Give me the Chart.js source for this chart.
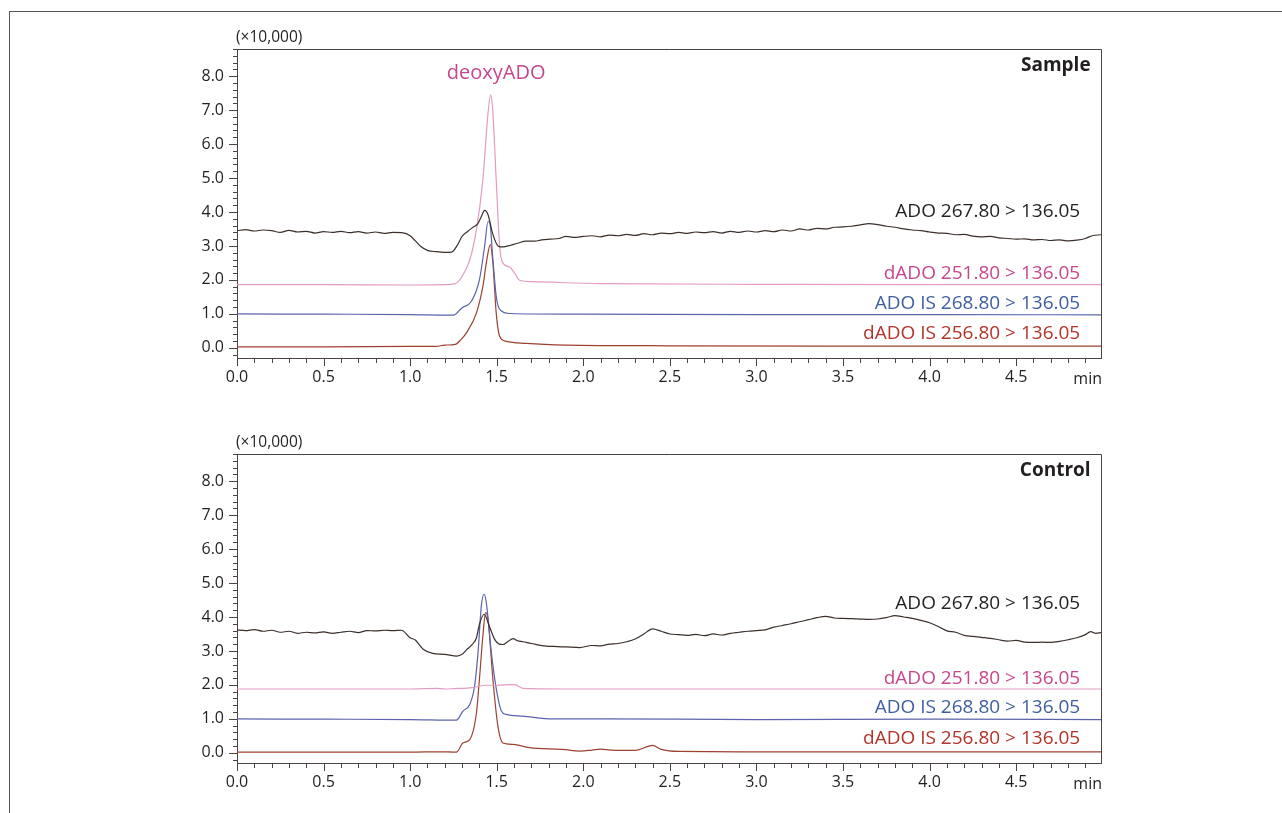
<!DOCTYPE html>
<html lang="en">
<head>
<meta charset="UTF-8">
<title>ADO / dADO chromatograms</title>
<script src="https://cdn.jsdelivr.net/npm/chart.js"></script>
<style>
  html, body { margin: 0; padding: 0; background: #fff; }
  #page { position: relative; width: 1282px; height: 813px; overflow: hidden; }
  #frame { position: absolute; left: 9px; top: 11px; right: -2px; bottom: -2px;
           border-top: 1px solid #5a5450; border-left: 1px solid #5a5450; }
  .box { position: absolute; left: 0; width: 1282px; height: 405px; }
</style>
</head>
<body>
<div id="page">
  <div id="frame"></div>
  <div class="box" style="top:0px"><canvas id="sampleChart"></canvas></div>
  <div class="box" style="top:405px"><canvas id="controlChart"></canvas></div>
</div>

<script>
// time (min) , intensity (x10,000)
const sampleADO = [[0,3.45],[0.05,3.48],[0.1,3.44],[0.15,3.47],[0.2,3.45],[0.25,3.4],[0.3,3.46],[0.35,3.41],[0.4,3.43],[0.45,3.38],[0.5,3.42],[0.55,3.4],[0.6,3.43],[0.65,3.39],[0.7,3.42],[0.75,3.38],[0.8,3.41],[0.85,3.37],[0.9,3.40],[0.95,3.39],[1.0,3.3],[1.03,3.15],[1.06,2.99],[1.1,2.87],[1.15,2.83],[1.2,2.81],[1.24,2.82],[1.27,3.0],[1.3,3.28],[1.33,3.42],[1.36,3.54],[1.39,3.65],[1.41,3.85],[1.43,4.05],[1.45,3.92],[1.475,3.39],[1.5,3.05],[1.52,2.97],[1.55,2.98],[1.58,3.02],[1.62,3.08],[1.67,3.14],[1.72,3.14],[1.76,3.18],[1.81,3.2],[1.86,3.22],[1.9,3.28],[1.95,3.25],[2.0,3.28],[2.05,3.3],[2.1,3.27],[2.15,3.32],[2.2,3.3],[2.25,3.34],[2.3,3.31],[2.35,3.36],[2.4,3.33],[2.45,3.38],[2.5,3.36],[2.55,3.4],[2.6,3.37],[2.65,3.41],[2.7,3.39],[2.75,3.42],[2.8,3.38],[2.85,3.43],[2.9,3.4],[2.95,3.44],[3.0,3.41],[3.05,3.45],[3.1,3.42],[3.15,3.47],[3.2,3.44],[3.25,3.5],[3.3,3.47],[3.35,3.52],[3.4,3.5],[3.45,3.55],[3.5,3.56],[3.55,3.58],[3.6,3.62],[3.65,3.66],[3.7,3.63],[3.75,3.58],[3.8,3.55],[3.85,3.5],[3.9,3.47],[3.95,3.45],[4.0,3.41],[4.05,3.38],[4.1,3.37],[4.15,3.33],[4.2,3.34],[4.25,3.29],[4.3,3.27],[4.35,3.28],[4.4,3.24],[4.45,3.22],[4.5,3.2],[4.55,3.21],[4.6,3.18],[4.65,3.19],[4.7,3.16],[4.75,3.18],[4.8,3.15],[4.85,3.17],[4.9,3.22],[4.94,3.3],[4.99,3.33]];
const sampleDADO = [[0,1.86],[0.5,1.86],[1.0,1.85],[1.2,1.86],[1.26,1.89],[1.3,2.1],[1.345,2.6],[1.383,3.48],[1.42,4.95],[1.45,6.92],[1.465,7.45],[1.478,6.92],[1.497,4.95],[1.517,2.99],[1.535,2.5],[1.575,2.38],[1.603,2.2],[1.632,1.99],[1.71,1.95],[2.1,1.89],[3.0,1.87],[4.99,1.86]];
const sampleADOIS = [[0,1.0],[0.5,0.99],[1.0,0.98],[1.25,0.96],[1.3,1.18],[1.354,1.37],[1.40,2.0],[1.43,2.99],[1.45,3.72],[1.46,3.68],[1.478,2.6],[1.497,1.52],[1.517,1.13],[1.575,1.01],[2.0,0.99],[3.0,0.98],[4.0,0.98],[4.99,0.97]];
const sampleDADOIS = [[0,0.03],[0.5,0.03],[1.0,0.04],[1.15,0.04],[1.2,0.08],[1.26,0.1],[1.295,0.25],[1.325,0.44],[1.383,1.03],[1.42,1.81],[1.443,2.6],[1.463,3.04],[1.478,2.5],[1.497,1.03],[1.517,0.34],[1.555,0.19],[1.67,0.13],[1.9,0.08],[2.5,0.06],[3.5,0.05],[4.99,0.05]];

const controlADO = [[0,3.62],[0.05,3.6],[0.1,3.63],[0.15,3.58],[0.2,3.61],[0.25,3.55],[0.3,3.58],[0.35,3.52],[0.4,3.55],[0.45,3.53],[0.5,3.56],[0.55,3.52],[0.6,3.55],[0.65,3.58],[0.7,3.54],[0.75,3.6],[0.8,3.59],[0.85,3.61],[0.9,3.6],[0.95,3.61],[1.0,3.39],[1.03,3.32],[1.05,3.2],[1.075,3.05],[1.13,2.93],[1.2,2.9],[1.27,2.85],[1.3,2.9],[1.325,3.03],[1.36,3.2],[1.383,3.39],[1.40,3.78],[1.427,4.08],[1.46,3.69],[1.488,3.34],[1.515,3.2],[1.536,3.19],[1.565,3.28],[1.594,3.36],[1.62,3.3],[1.652,3.27],[1.7,3.22],[1.787,3.14],[1.85,3.13],[1.9,3.12],[1.98,3.1],[2.05,3.16],[2.1,3.15],[2.15,3.2],[2.2,3.22],[2.25,3.27],[2.3,3.35],[2.35,3.5],[2.4,3.65],[2.45,3.58],[2.5,3.5],[2.55,3.48],[2.6,3.46],[2.65,3.49],[2.7,3.45],[2.75,3.5],[2.8,3.47],[2.85,3.52],[2.9,3.55],[2.95,3.58],[3.0,3.6],[3.05,3.62],[3.1,3.7],[3.15,3.75],[3.2,3.8],[3.25,3.86],[3.3,3.92],[3.35,3.98],[3.4,4.02],[3.45,3.97],[3.5,3.96],[3.55,3.95],[3.6,3.94],[3.65,3.93],[3.7,3.94],[3.75,3.98],[3.8,4.04],[3.85,4.0],[3.9,3.96],[3.95,3.9],[4.0,3.83],[4.05,3.72],[4.1,3.59],[4.15,3.55],[4.2,3.46],[4.25,3.43],[4.3,3.4],[4.35,3.37],[4.4,3.33],[4.45,3.29],[4.5,3.31],[4.55,3.26],[4.6,3.25],[4.65,3.26],[4.7,3.25],[4.75,3.28],[4.8,3.33],[4.85,3.39],[4.9,3.48],[4.93,3.57],[4.96,3.52],[4.99,3.54]];
const controlDADO = [[0,1.88],[0.5,1.88],[1.0,1.88],[1.15,1.9],[1.2,1.88],[1.25,1.89],[1.36,1.92],[1.44,1.99],[1.50,1.99],[1.585,2.01],[1.61,2.0],[1.652,1.9],[2.0,1.88],[3.0,1.88],[4.99,1.88]];
const controlADOIS = [[0,1.0],[0.5,0.99],[1.0,0.98],[1.267,0.96],[1.305,1.23],[1.344,1.42],[1.372,1.96],[1.392,2.95],[1.411,4.32],[1.427,4.67],[1.44,4.42],[1.469,2.95],[1.498,1.87],[1.527,1.23],[1.555,1.13],[1.652,1.08],[1.825,1.0],[2.1,1.0],[3.0,0.98],[4.0,0.99],[4.99,0.98]];
const controlDADOIS = [[0,0.02],[0.5,0.02],[1.0,0.02],[1.17,0.03],[1.267,0.02],[1.305,0.29],[1.344,0.39],[1.383,1.18],[1.40,2.16],[1.42,3.44],[1.436,4.13],[1.45,3.93],[1.478,2.16],[1.507,0.78],[1.536,0.29],[1.594,0.25],[1.69,0.15],[1.88,0.1],[1.98,0.05],[2.05,0.08],[2.1,0.11],[2.16,0.08],[2.3,0.07],[2.37,0.18],[2.4,0.22],[2.45,0.1],[2.55,0.04],[3.0,0.03],[4.99,0.03]];

const traceNames = ['ADO 267.80 > 136.05', 'dADO 251.80 > 136.05', 'ADO IS 268.80 > 136.05', 'dADO IS 256.80 > 136.05'];
const xTickLabels = [0, 0.5, 1.0, 1.5, 2.0, 2.5, 3.0, 3.5, 4.0, 4.5];
const yTickLabels = [0, 1, 2, 3, 4, 5, 6, 7, 8];

const lineColors = ['#3b302b', '#e39bc3', '#5b64aa', '#9e4030'];
const textColors = ['#231f20', '#c8468c', '#3f5e9f', '#b2332a'];
const FONT = '"Open Sans", "Noto Sans", sans-serif';

// chromatogram decorations: box, tick marks, trace names
const chromPlugin = {
    id: 'chrom',
    afterDraw(chart, args, opts) {
        const ctx = chart.ctx;
        const a = chart.chartArea;
        const xs = chart.scales.x, ys = chart.scales.y;
        ctx.save();
        ctx.strokeStyle = '#4a4340';
        ctx.lineWidth = 1;
        // top + right border
        ctx.beginPath();
        ctx.moveTo(a.left, a.top + 0.5);
        ctx.lineTo(a.right + 0.5, a.top + 0.5);
        ctx.lineTo(a.right + 0.5, a.bottom);
        ctx.stroke();
        // x tick marks
        ctx.beginPath();
        for (let i = 0; i <= 49; i++) {
            const v = i / 10;
            const px = Math.round(xs.getPixelForValue(v)) + 0.5;
            const len = (i % 5 === 0) ? 8 : 5;
            ctx.moveTo(px, a.bottom);
            ctx.lineTo(px, a.bottom + len);
        }
        // y tick marks
        for (let i = -1; i <= 44; i++) {
            const v = i / 5;
            const py = Math.round(ys.getPixelForValue(v)) + 0.5;
            const len = (i % 5 === 0) ? 8 : 4;
            ctx.moveTo(a.left, py);
            ctx.lineTo(a.left - len, py);
        }
        ctx.stroke();

        ctx.fillStyle = '#231f20';
        ctx.font = '16px ' + FONT;
        ctx.textBaseline = 'middle';
        ctx.textAlign = 'right';
        ctx.fillText('min', a.right + 1, a.bottom + 21);
        ctx.textAlign = 'left';
        ctx.font = '15.5px ' + FONT;
        ctx.fillText('(\u00d710,000)', a.left - 1, a.top - 11);

        ctx.font = 'bold 19px ' + FONT;
        ctx.textAlign = 'right';
        ctx.fillText(opts.title, xs.getPixelForValue(4.93), ys.getPixelForValue(8.3));

        ctx.font = '19px ' + FONT;
        opts.labelY.forEach((yv, i) => {
            ctx.fillStyle = textColors[i];
            ctx.fillText(traceNames[i], xs.getPixelForValue(4.87), ys.getPixelForValue(yv));
        });
        if (opts.peak) {
            ctx.fillStyle = textColors[1];
            ctx.textAlign = 'center';
            ctx.font = '20px ' + FONT;
            ctx.fillText(opts.peak, xs.getPixelForValue(1.497), ys.getPixelForValue(8.09));
        }
        ctx.restore();
    }
};

function makeChart(id, traces, title, labelY, peak) {
    const datasets = traces.map((pts, i) => ({
        label: traceNames[i],
        data: pts.map(p => ({ x: p[0], y: p[1] })),
        borderColor: lineColors[i],
        borderWidth: 1.2,
        pointRadius: 0,
        cubicInterpolationMode: 'monotone',
        fill: false
    }));
    return new Chart(document.getElementById(id), {
        type: 'line',
        data: { datasets: datasets },
        options: {
            responsive: true,
            maintainAspectRatio: false,
            animation: false,
            events: [],
            layout: { padding: { left: 197, right: 181, top: 49, bottom: 7 } },
            plugins: {
                legend: { display: false },
                tooltip: { enabled: false },
                chrom: { title: title, labelY: labelY, peak: peak }
            },
            scales: {
                x: {
                    type: 'linear',
                    min: 0,
                    max: 4.99,
                    afterFit: s => { s.height = 40; },
                    afterBuildTicks: s => { s.ticks = xTickLabels.map(v => ({ value: v })); },
                    grid: { display: false, drawTicks: false },
                    border: { display: true, color: '#4a4340', width: 1 },
                    ticks: {
                        padding: 10,
                        color: '#231f20',
                        font: { family: FONT, size: 16 },
                        maxRotation: 0,
                        autoSkip: false,
                        callback: v => Number(v).toFixed(1)
                    }
                },
                y: {
                    type: 'linear',
                    min: -0.3,
                    max: 8.8,
                    afterFit: s => { s.width = 40; },
                    afterBuildTicks: s => { s.ticks = yTickLabels.map(v => ({ value: v })); },
                    grid: { display: false, drawTicks: false },
                    border: { display: true, color: '#4a4340', width: 1 },
                    ticks: {
                        padding: 13,
                        color: '#231f20',
                        font: { family: FONT, size: 16 },
                        autoSkip: false,
                        callback: v => Number(v).toFixed(1)
                    }
                }
            }
        },
        plugins: [chromPlugin]
    });
}

makeChart('sampleChart', [sampleADO, sampleDADO, sampleADOIS, sampleDADOIS], 'Sample', [4.0, 2.2, 1.29, 0.41], 'deoxyADO');
makeChart('controlChart', [controlADO, controlDADO, controlADOIS, controlDADOIS], 'Control', [4.38, 2.2, 1.32, 0.41], null);
</script>
</body>
</html>
